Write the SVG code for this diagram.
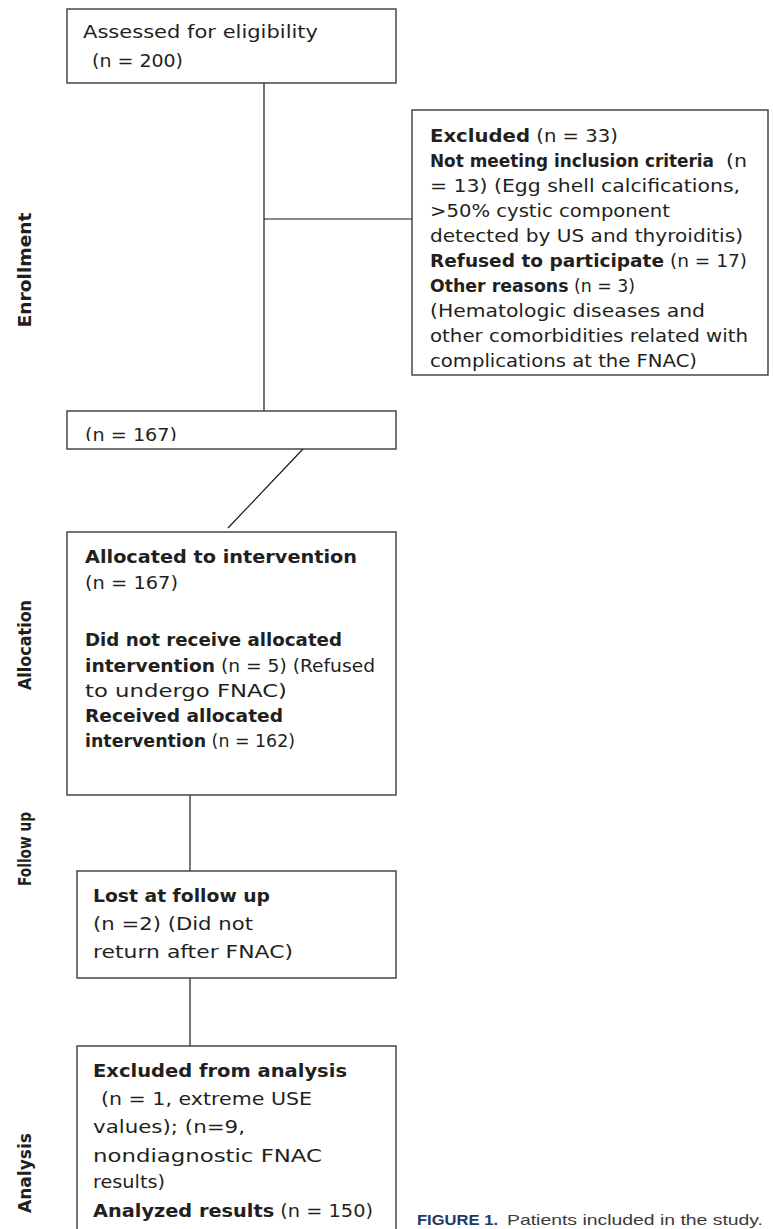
<svg xmlns="http://www.w3.org/2000/svg" width="773" height="1229" viewBox="0 0 773 1229">
<style>
.box{fill:#fff;stroke:#3a3a3a;stroke-width:1.4}
.ln{stroke:#1a1a1a;stroke-width:1.2;fill:none}
.t{font-family:"DejaVu Sans",sans-serif;font-size:18px;fill:#231f20}
.b{font-weight:bold}
.side{font-family:"DejaVu Sans",sans-serif;font-size:17px;font-weight:bold;fill:#231f20}
.cap{font-family:"Liberation Sans",Arial,sans-serif;font-size:15px;fill:#3a3a3a}
</style>
<defs>
<clipPath id="clip167"><rect x="67" y="411" width="329" height="30"/></clipPath>
</defs>
<rect width="773" height="1229" fill="#fff"/>
<g id="connectors">
<line class="ln" x1="264" y1="83" x2="264" y2="411"/>
<line class="ln" x1="264" y1="219" x2="412" y2="219"/>
<line class="ln" x1="303" y1="449" x2="228" y2="528"/>
<line class="ln" x1="190" y1="795" x2="190" y2="871"/>
<line class="ln" x1="190" y1="978" x2="190" y2="1046"/>
</g>
<g id="side-labels">
<text class="side" transform="translate(31,270) rotate(-90)" text-anchor="middle" textLength="115" lengthAdjust="spacingAndGlyphs">Enrollment</text>
<text class="side" transform="translate(31,645) rotate(-90)" text-anchor="middle" textLength="90" lengthAdjust="spacingAndGlyphs">Allocation</text>
<text class="side" transform="translate(31,849) rotate(-90)" text-anchor="middle" textLength="74" lengthAdjust="spacingAndGlyphs">Follow up</text>
<text class="side" transform="translate(31,1173) rotate(-90)" text-anchor="middle" textLength="80" lengthAdjust="spacingAndGlyphs">Analysis</text>
</g>
<g id="assessed">
<rect class="box" x="67" y="9" width="329" height="74"/>
<text class="t" x="83" y="38" textLength="235" lengthAdjust="spacingAndGlyphs">Assessed for eligibility</text>
<text class="t" x="92" y="67" textLength="91" lengthAdjust="spacingAndGlyphs">(n = 200)</text>
</g>
<g id="excluded">
<rect class="box" x="412" y="110" width="356" height="265"/>
<text class="t" x="430" y="142" textLength="188" lengthAdjust="spacingAndGlyphs"><tspan class="b">Excluded</tspan> (n = 33)</text>
<text class="t b" x="430" y="167" style="font-size:17px" textLength="284" lengthAdjust="spacingAndGlyphs">Not meeting inclusion criteria</text>
<text class="t" x="726" y="167" textLength="21" lengthAdjust="spacingAndGlyphs">(n</text>
<text class="t" x="430" y="192" textLength="310" lengthAdjust="spacingAndGlyphs">= 13) (Egg shell calcifications,</text>
<text class="t" x="430" y="217" textLength="240" lengthAdjust="spacingAndGlyphs">&gt;50% cystic component</text>
<text class="t" x="430" y="242" textLength="313" lengthAdjust="spacingAndGlyphs">detected by US and thyroiditis)</text>
<text class="t" x="430" y="267" textLength="317" lengthAdjust="spacingAndGlyphs"><tspan class="b">Refused to participate</tspan> (n = 17)</text>
<text class="t" x="430" y="292" textLength="205" lengthAdjust="spacingAndGlyphs"><tspan class="b">Other reasons</tspan> (n = 3)</text>
<text class="t" x="430" y="317" textLength="275" lengthAdjust="spacingAndGlyphs">(Hematologic diseases and</text>
<text class="t" x="430" y="342" textLength="318" lengthAdjust="spacingAndGlyphs">other comorbidities related with</text>
<text class="t" x="430" y="367" textLength="267" lengthAdjust="spacingAndGlyphs">complications at the FNAC)</text>
</g>
<g id="n167">
<rect class="box" x="67" y="411" width="329" height="38"/>
<text class="t" x="85" y="441" textLength="92" lengthAdjust="spacingAndGlyphs" clip-path="url(#clip167)">(n = 167)</text>
</g>
<g id="allocation">
<rect class="box" x="67" y="532" width="329" height="263"/>
<text class="t b" x="85" y="563" textLength="272" lengthAdjust="spacingAndGlyphs">Allocated to intervention</text>
<text class="t" x="85" y="589" textLength="93" lengthAdjust="spacingAndGlyphs">(n = 167)</text>
<text class="t b" x="85" y="646" textLength="257" lengthAdjust="spacingAndGlyphs">Did not receive allocated</text>
<text class="t" x="85" y="672" textLength="290" lengthAdjust="spacingAndGlyphs"><tspan class="b">intervention</tspan> (n = 5) (Refused</text>
<text class="t" x="85" y="697" textLength="202" lengthAdjust="spacingAndGlyphs">to undergo FNAC)</text>
<text class="t b" x="85" y="722" textLength="198" lengthAdjust="spacingAndGlyphs">Received allocated</text>
<text class="t" x="85" y="747" textLength="210" lengthAdjust="spacingAndGlyphs"><tspan class="b">intervention</tspan> (n = 162)</text>
</g>
<g id="followup">
<rect class="box" x="77" y="871" width="319" height="107"/>
<text class="t b" x="93" y="902" textLength="177" lengthAdjust="spacingAndGlyphs">Lost at follow up</text>
<text class="t" x="93" y="930" textLength="160" lengthAdjust="spacingAndGlyphs">(n =2) (Did not</text>
<text class="t" x="93" y="958" textLength="200" lengthAdjust="spacingAndGlyphs">return after FNAC)</text>
</g>
<g id="analysis">
<rect class="box" x="77" y="1046" width="319" height="200"/>
<text class="t b" x="93" y="1077" textLength="254" lengthAdjust="spacingAndGlyphs">Excluded from analysis</text>
<text class="t" x="101" y="1105" textLength="211" lengthAdjust="spacingAndGlyphs">(n = 1, extreme USE</text>
<text class="t" x="93" y="1133" textLength="152" lengthAdjust="spacingAndGlyphs">values); (n=9,</text>
<text class="t" x="93" y="1162" textLength="229" lengthAdjust="spacingAndGlyphs">nondiagnostic FNAC</text>
<text class="t" x="93" y="1188" textLength="72" lengthAdjust="spacingAndGlyphs">results)</text>
<text class="t" x="93" y="1217" textLength="280" lengthAdjust="spacingAndGlyphs"><tspan class="b">Analyzed results</tspan> (n = 150)</text>
</g>
<g id="caption">
<text class="cap" x="417" y="1225"><tspan font-weight="bold" fill="#1f3b63" textLength="81" lengthAdjust="spacingAndGlyphs">FIGURE 1.</tspan><tspan x="507" textLength="256" lengthAdjust="spacingAndGlyphs">Patients included in the study.</tspan></text>
</g>
</svg>
